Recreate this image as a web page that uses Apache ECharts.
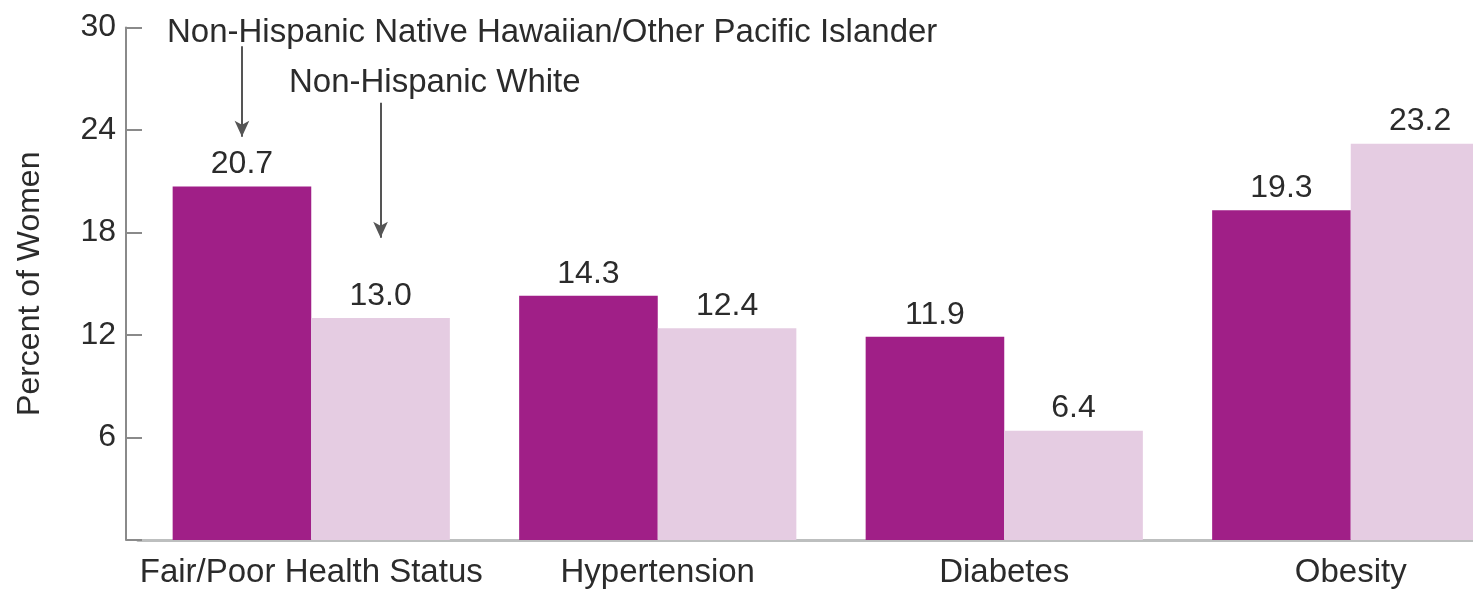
<!DOCTYPE html>
<html>
<head>
<meta charset="utf-8">
<script src="https://cdn.jsdelivr.net/npm/echarts@6/dist/echarts.min.js"></script>
<style>
html,body{margin:0;padding:0;background:#fff;overflow:hidden;width:1473px;height:589px;}
#chart{width:1540px;height:589px;}
</style>
</head>
<body>
<div id="chart"></div>
<script>
var categories = ['Fair/Poor Health Status', 'Hypertension', 'Diabetes', 'Obesity'];
var nhopiValues = [20.7, 14.3, 11.9, 19.3];
var whiteValues = [13.0, 12.4, 6.4, 23.2];
var seriesNames = ['Non-Hispanic Native Hawaiian/Other Pacific Islander', 'Non-Hispanic White'];
var yTicks = [0, 6, 12, 18, 24, 30];
var yAxisName = 'Percent of Women';

var FONT = '"Liberation Sans", Arial, sans-serif';
var chart = echarts.init(document.getElementById('chart'), null, {renderer: 'canvas'});

chart.setOption({
  animation: false,
  backgroundColor: '#ffffff',
  grid: {left: 138, width: 1386, top: 27.5, bottom: 48.5, containLabel: false},
  graphic: [
    {type: 'text', left: 167, top: 16, style: {text: seriesNames[0], font: '33px ' + FONT, fill: '#2b2b2b'}},
    {type: 'text', left: 289, top: 66, style: {text: seriesNames[1], font: '33px ' + FONT, fill: '#2b2b2b'}}
  ],
  xAxis: {
    type: 'category',
    data: categories,
    axisLine: {show: true, lineStyle: {color: '#bdbfbf', width: 3}},
    axisTick: {show: false},
    axisLabel: {color: '#2b2b2b', fontSize: 33, fontFamily: FONT, margin: 16, interval: 0}
  },
  yAxis: {
    type: 'value',
    min: yTicks[0],
    max: yTicks[yTicks.length - 1],
    interval: 6,
    offset: 12,
    name: yAxisName,
    nameLocation: 'middle',
    nameGap: 80,
    nameTextStyle: {color: '#2b2b2b', fontSize: 32, fontFamily: FONT},
    axisLine: {show: true, lineStyle: {color: '#8a8a8a', width: 2}},
    axisTick: {show: true, inside: true, length: 16, lineStyle: {color: '#8a8a8a', width: 2}},
    axisLabel: {
      color: '#2b2b2b', fontSize: 32, fontFamily: FONT, margin: 10,
      formatter: function (v) { return v === 0 ? '' : String(v); }
    },
    splitLine: {show: false}
  },
  series: [
    {
      name: seriesNames[0],
      type: 'bar',
      data: nhopiValues,
      barGap: '0%',
      barCategoryGap: '20%',
      itemStyle: {color: '#a01f87'},
      label: {show: true, position: 'top', distance: 6, color: '#2b2b2b', fontSize: 32, fontFamily: FONT,
        formatter: function (p) { return p.value.toFixed(1); }},
      markLine: {
        silent: true,
        symbol: ['none', 'arrow'],
        symbolSize: [11, 16],
        label: {show: false},
        lineStyle: {color: '#555', width: 2, type: 'solid'},
        data: [[{coord: [0, 28.9]}, {coord: [0, 23.6]}]]
      }
    },
    {
      name: seriesNames[1],
      type: 'bar',
      data: whiteValues,
      itemStyle: {color: '#e5cce2'},
      label: {show: true, position: 'top', distance: 6, color: '#2b2b2b', fontSize: 32, fontFamily: FONT,
        formatter: function (p) { return p.value.toFixed(1); }},
      markLine: {
        silent: true,
        symbol: ['none', 'arrow'],
        symbolSize: [11, 16],
        label: {show: false},
        lineStyle: {color: '#555', width: 2, type: 'solid'},
        data: [[{coord: [0, 25.6]}, {coord: [0, 17.7]}]]
      }
    }
  ]
});
</script>
</body>
</html>
